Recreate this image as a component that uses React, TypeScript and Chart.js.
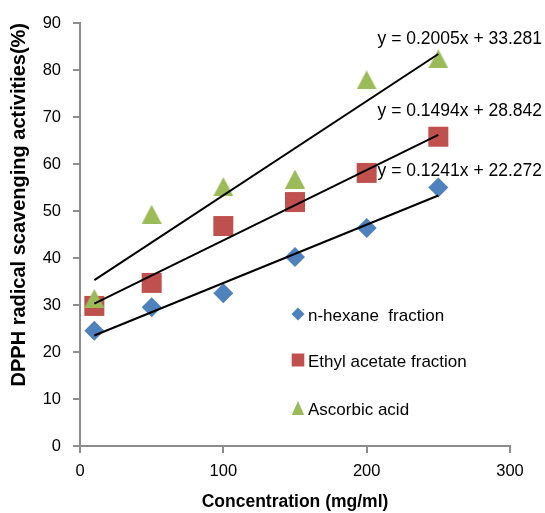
import React, { useEffect, useRef } from "react";
import { Chart, registerables } from "chart.js";

Chart.register(...registerables);

const concentrations = [10, 50, 100, 150, 200, 250];
const hexaneValues = [24.5, 29.5, 32.5, 40.2, 46.4, 55.0];
const ethylValues = [29.8, 34.7, 46.8, 51.9, 58.1, 65.8];
const ascorbicValues = [31.4, 49.3, 55.2, 56.8, 77.9, 82.4];

const trendX = [10, 250];
const hexaneTrend = [23.5, 53.3];
const ethylTrend = [30.3, 66.2];
const ascorbicTrend = [35.3, 83.4];

const seriesNames = ["n-hexane  fraction", "Ethyl acetate fraction", "Ascorbic acid"];
const equations = ["y = 0.2005x + 33.281", "y = 0.1494x + 28.842", "y = 0.1241x + 22.272"];

const xTicks = [0, 100, 200, 300];
const yTicks = [0, 10, 20, 30, 40, 50, 60, 70, 80, 90];

const BLUE = "#4F81BD";
const RED = "#C0504D";
const GREEN = "#9BBB59";
const AXIS = "#8c8c8c";
const FONT = "'Liberation Sans', Arial, sans-serif";

function makeTriangle(w: number, h: number, color: string) {
  const c = document.createElement("canvas");
  c.width = w;
  c.height = h;
  const g = c.getContext("2d")!;
  g.fillStyle = color;
  g.beginPath();
  g.moveTo(w / 2, 0);
  g.lineTo(w, h);
  g.lineTo(0, h);
  g.closePath();
  g.fill();
  return c;
}

const pts = (xs: number[], ys: number[]) => xs.map((x, i) => ({ x, y: ys[i] }));

export default function App() {
  const ref = useRef<HTMLCanvasElement | null>(null);

  useEffect(() => {
    if (!ref.current) return;
    const tri = makeTriangle(20, 19, GREEN);

    const overlay = {
      id: "overlay",
      afterDraw(chart: any) {
        const ctx = chart.ctx;
        const a = chart.chartArea;
        ctx.save();
        // equations
        ctx.fillStyle = "#000";
        ctx.font = `17.5px ${FONT}`;
        ctx.textAlign = "right";
        ctx.textBaseline = "alphabetic";
        const eqY = [44, 116, 176];
        equations.forEach((t, i) => ctx.fillText(t, a.right + 32, eqY[i]));
        // legend
        const lx = a.left + 218;
        const ly = [314, 360, 408];
        const colors = [BLUE, RED, GREEN];
        ly.forEach((y, i) => {
          ctx.fillStyle = colors[i];
          ctx.beginPath();
          if (i === 0) {
            ctx.moveTo(lx - 6.5, y);
            ctx.lineTo(lx, y - 6.5);
            ctx.lineTo(lx + 6.5, y);
            ctx.lineTo(lx, y + 6.5);
          } else if (i === 1) {
            ctx.rect(lx - 6.3, y - 6.5, 12.6, 13);
          } else {
            ctx.moveTo(lx, y - 7);
            ctx.lineTo(lx + 6.2, y + 7);
            ctx.lineTo(lx - 6.2, y + 7);
          }
          ctx.closePath();
          ctx.fill();
          ctx.fillStyle = "#000";
          ctx.font = `17px ${FONT}`;
          ctx.textAlign = "left";
          ctx.textBaseline = "alphabetic";
          ctx.fillText(seriesNames[i], lx + 10, y + 6.5);
        });
        ctx.restore();
      },
    };

    const chart = new Chart(ref.current, {
      type: "scatter",
      data: {
        datasets: [
          { type: "line", data: pts(trendX, ascorbicTrend), borderColor: "#000", borderWidth: 2, pointRadius: 0, order: 0 } as any,
          { type: "line", data: pts(trendX, ethylTrend), borderColor: "#000", borderWidth: 2, pointRadius: 0, order: 0 } as any,
          { type: "line", data: pts(trendX, hexaneTrend), borderColor: "#000", borderWidth: 2, pointRadius: 0, order: 0 } as any,
          { label: seriesNames[2], data: pts(concentrations, ascorbicValues), pointStyle: tri as any, pointRadius: 10, backgroundColor: GREEN, borderWidth: 0, order: 1 },
          { label: seriesNames[1], data: pts(concentrations, ethylValues), pointStyle: "rect", pointRadius: 14.14, backgroundColor: RED, borderWidth: 0, order: 2 },
          { label: seriesNames[0], data: pts(concentrations, hexaneValues), pointStyle: "rectRot", pointRadius: 10, backgroundColor: BLUE, borderWidth: 0, order: 3 },
        ],
      },
      options: {
        animation: false,
        responsive: false,
        events: [],
        layout: { padding: { top: 23, right: 35, left: 0, bottom: 0 } },
        plugins: { legend: { display: false }, tooltip: { enabled: false } },
        scales: {
          x: {
            type: "linear",
            min: 0,
            max: 300,
            afterBuildTicks: (s: any) => { s.ticks = xTicks.map((v) => ({ value: v })); },
            afterFit: (s: any) => { s.height = 67; },
            ticks: { color: "#000", font: { family: FONT, size: 16.5 }, padding: 9 },
            grid: { display: true, drawOnChartArea: false, drawTicks: true, tickLength: 7, color: AXIS, lineWidth: 2 },
            border: { display: true, color: AXIS, width: 2 },
            title: { display: true, text: "Concentration (mg/ml)", color: "#000", font: { family: FONT, size: 17.5, weight: "bold" }, padding: { top: 0, bottom: 0 } },
          },
          y: {
            type: "linear",
            min: 0,
            max: 90,
            afterBuildTicks: (s: any) => { s.ticks = yTicks.map((v) => ({ value: v })); },
            afterFit: (s: any) => { s.width = 80; },
            ticks: { color: "#000", font: { family: FONT, size: 16.5 }, padding: 12 },
            grid: { display: true, drawOnChartArea: false, drawTicks: true, tickLength: 7, color: AXIS, lineWidth: 2 },
            border: { display: true, color: AXIS, width: 2 },
            title: { display: true, text: "DPPH radical scavenging activities(%)", align: "end", color: "#000", font: { family: FONT, size: 20, weight: "bold" }, padding: { top: 7, bottom: 0 } },
          },
        },
      },
      plugins: [overlay],
    });
    return () => chart.destroy();
  }, []);

  return (
    <div style={{ position: "absolute", left: 0, top: 0, width: 545, height: 513 }}>
      <canvas ref={ref} width={545} height={513} style={{ display: "block", width: 545, height: 513 }} />
    </div>
  );
}
